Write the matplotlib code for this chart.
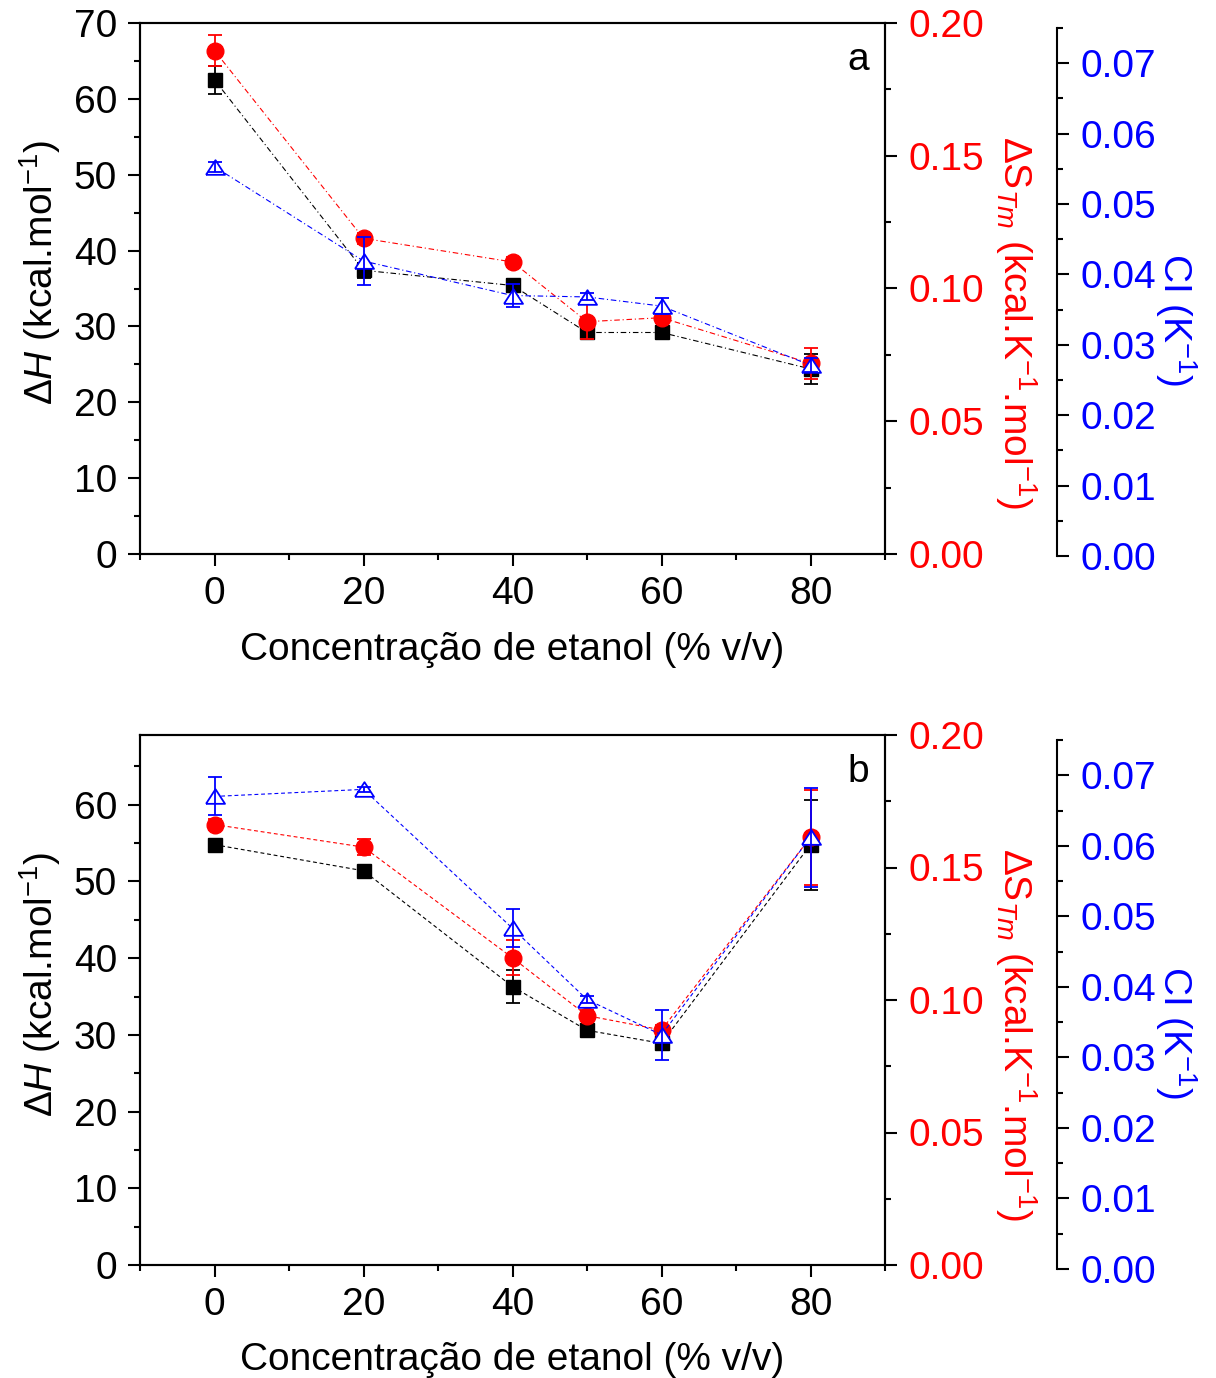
import numpy as np
import matplotlib.pyplot as plt
from matplotlib.ticker import MultipleLocator

plt.rcParams['font.family'] = ['Liberation Sans', 'DejaVu Sans']
plt.rcParams['mathtext.fontset'] = 'custom'
plt.rcParams['mathtext.rm'] = 'Liberation Sans'
plt.rcParams['mathtext.it'] = 'Liberation Sans:italic'
plt.rcParams['mathtext.default'] = 'regular'
plt.rcParams['font.size'] = 28
plt.rcParams['axes.linewidth'] = 1.5

# concentração de etanol (% v/v)
conc = [0, 20, 40, 50, 60, 80]

# painel a
dH_a = [62.5, 37.4, 35.4, 29.2, 29.2, 24.4]
dH_a_err = [1.85, 1.0, 0.8, 0.8, 0.9, 2.0]
dS_a = [0.1896, 0.1189, 0.110, 0.0875, 0.0890, 0.0718]
dS_a_err = [0.0057, 0.002, 0.002, 0.0066, 0.002, 0.0057]
ci_a = [0.0553, 0.0419, 0.0370, 0.0368, 0.0355, 0.0271]
ci_a_err = [0.0007, 0.0034, 0.0017, 0.0005, 0.0011, 0.0010]

# painel b
dH_b = [54.8, 51.4, 36.3, 30.6, 28.9, 54.8]
dH_b_err = [0.5, 0.5, 2.1, 0.5, 0.8, 5.85]
dS_b = [0.1662, 0.1577, 0.1159, 0.0941, 0.0887, 0.1614]
dS_b_err = [0.002, 0.0029, 0.0066, 0.002, 0.002, 0.0179]
ci_b = [0.0670, 0.0680, 0.0483, 0.0382, 0.0332, 0.0612]
ci_b_err = [0.0027, 0.0004, 0.0027, 0.0005, 0.0035, 0.0070]

tri = [(-1, -0.77), (1, -0.77), (0, 0.77), (-1, -0.77)]

W, H = 1216, 1378
fig = plt.figure(figsize=(W / 100, H / 100), dpi=100)


def estilo_ticks(ax):
    ax.tick_params(which='major', direction='out', length=8.6, width=1.5, pad=8)
    ax.tick_params(which='minor', direction='out', length=4.3, width=1.5)
    ax.tick_params(axis='x', pad=7.5)


def painel(top, bottom, ci_top, ci_bottom, h_max, dH, dH_err, dS, dS_err,
           ci, ci_err, dashes, letra):
    left = 140 / W
    width = 745 / W
    ax = fig.add_axes([left, 1 - bottom / H, width, (bottom - top) / H])
    ax2 = ax.twinx()
    ax3 = fig.add_axes([left, 1 - ci_bottom / H, width, (ci_bottom - ci_top) / H])
    ax3.patch.set_visible(False)

    lw = 0.8
    ax.errorbar(conc, dH, yerr=dH_err, color='black', marker='s', ms=10,
                lw=lw, dashes=dashes, elinewidth=1.3, capsize=5, capthick=1.3)
    ax2.errorbar(conc, dS, yerr=dS_err, color='red', marker='o', ms=12,
                 lw=lw, dashes=dashes, elinewidth=1.3, capsize=5, capthick=1.3)
    ax3.errorbar(conc, ci, yerr=ci_err, color='blue', marker=tri, ms=13.7,
                 mfc='white', mec='blue', mew=1.3, lw=lw, dashes=dashes,
                 elinewidth=1.3, capsize=5, capthick=1.3, barsabove=True)

    for a in (ax, ax2, ax3):
        a.set_xlim(-10, 90)

    # eixo esquerdo: ΔH
    ax.set_ylim(0, h_max)
    ax.yaxis.set_major_locator(MultipleLocator(10))
    ax.yaxis.set_minor_locator(MultipleLocator(5))
    ax.xaxis.set_major_locator(MultipleLocator(20))
    ax.xaxis.set_minor_locator(MultipleLocator(10))
    ax.tick_params(top=False, right=False, which='both')
    estilo_ticks(ax)
    ax.set_xlabel('Concentração de etanol (% v/v)')
    ax.xaxis.set_label_coords(0.5, -0.18)
    ax.xaxis.label.set_va('center')
    ax.set_ylabel(r'$\Delta\mathit{H}$ (kcal.mol$^{-1}$)')
    ax.yaxis.set_label_coords(-0.134, 0.53)
    ax.yaxis.label.set_va('center')

    # eixo direito: ΔS
    ax2.set_ylim(0, 0.2)
    ax2.yaxis.set_major_locator(MultipleLocator(0.05))
    ax2.yaxis.set_minor_locator(MultipleLocator(0.025))
    ax2.yaxis.set_major_formatter(lambda v, p: f'{v:.2f}')
    estilo_ticks(ax2)
    ax2.tick_params(axis='y', labelcolor='red')
    ax2.set_ylabel(r'$\Delta$S$_{\mathit{Tm}}$ (kcal.K$^{-1}$.mol$^{-1}$)',
                   color='red', rotation=270)
    ax2.yaxis.set_label_coords(1.176, 0.435)
    ax2.yaxis.label.set_va('center')

    # terceiro eixo: CI
    ax3.set_ylim(0, 0.075)
    for s in ('left', 'top', 'bottom'):
        ax3.spines[s].set_visible(False)
    ax3.spines['right'].set_position(('axes', 1.231))
    ax3.xaxis.set_visible(False)
    ax3.yaxis.tick_right()
    ax3.yaxis.set_label_position('right')
    ax3.yaxis.set_major_locator(MultipleLocator(0.01))
    ax3.yaxis.set_minor_locator(MultipleLocator(0.005))
    ax3.yaxis.set_major_formatter(lambda v, p: f'{v:.2f}')
    estilo_ticks(ax3)
    ax3.tick_params(axis='y', labelcolor='blue')
    ax3.set_ylabel(r'CI (K$^{-1}$)', color='blue', rotation=270)
    ax3.yaxis.set_label_coords(1.391, 0.447)
    ax3.yaxis.label.set_va('center')

    ax.text(0.964, 0.93, letra, transform=ax.transAxes, ha='center', va='center')


painel(23, 554, 28, 556, 70, dH_a, dH_a_err, dS_a, dS_a_err, ci_a, ci_a_err,
       (5, 2.5, 1, 2.5), 'a')
painel(735, 1265, 740, 1269, 69.1, dH_b, dH_b_err, dS_b, dS_b_err, ci_b, ci_b_err,
       (3.5, 2.5), 'b')

fig.savefig('out.png', dpi=100)
